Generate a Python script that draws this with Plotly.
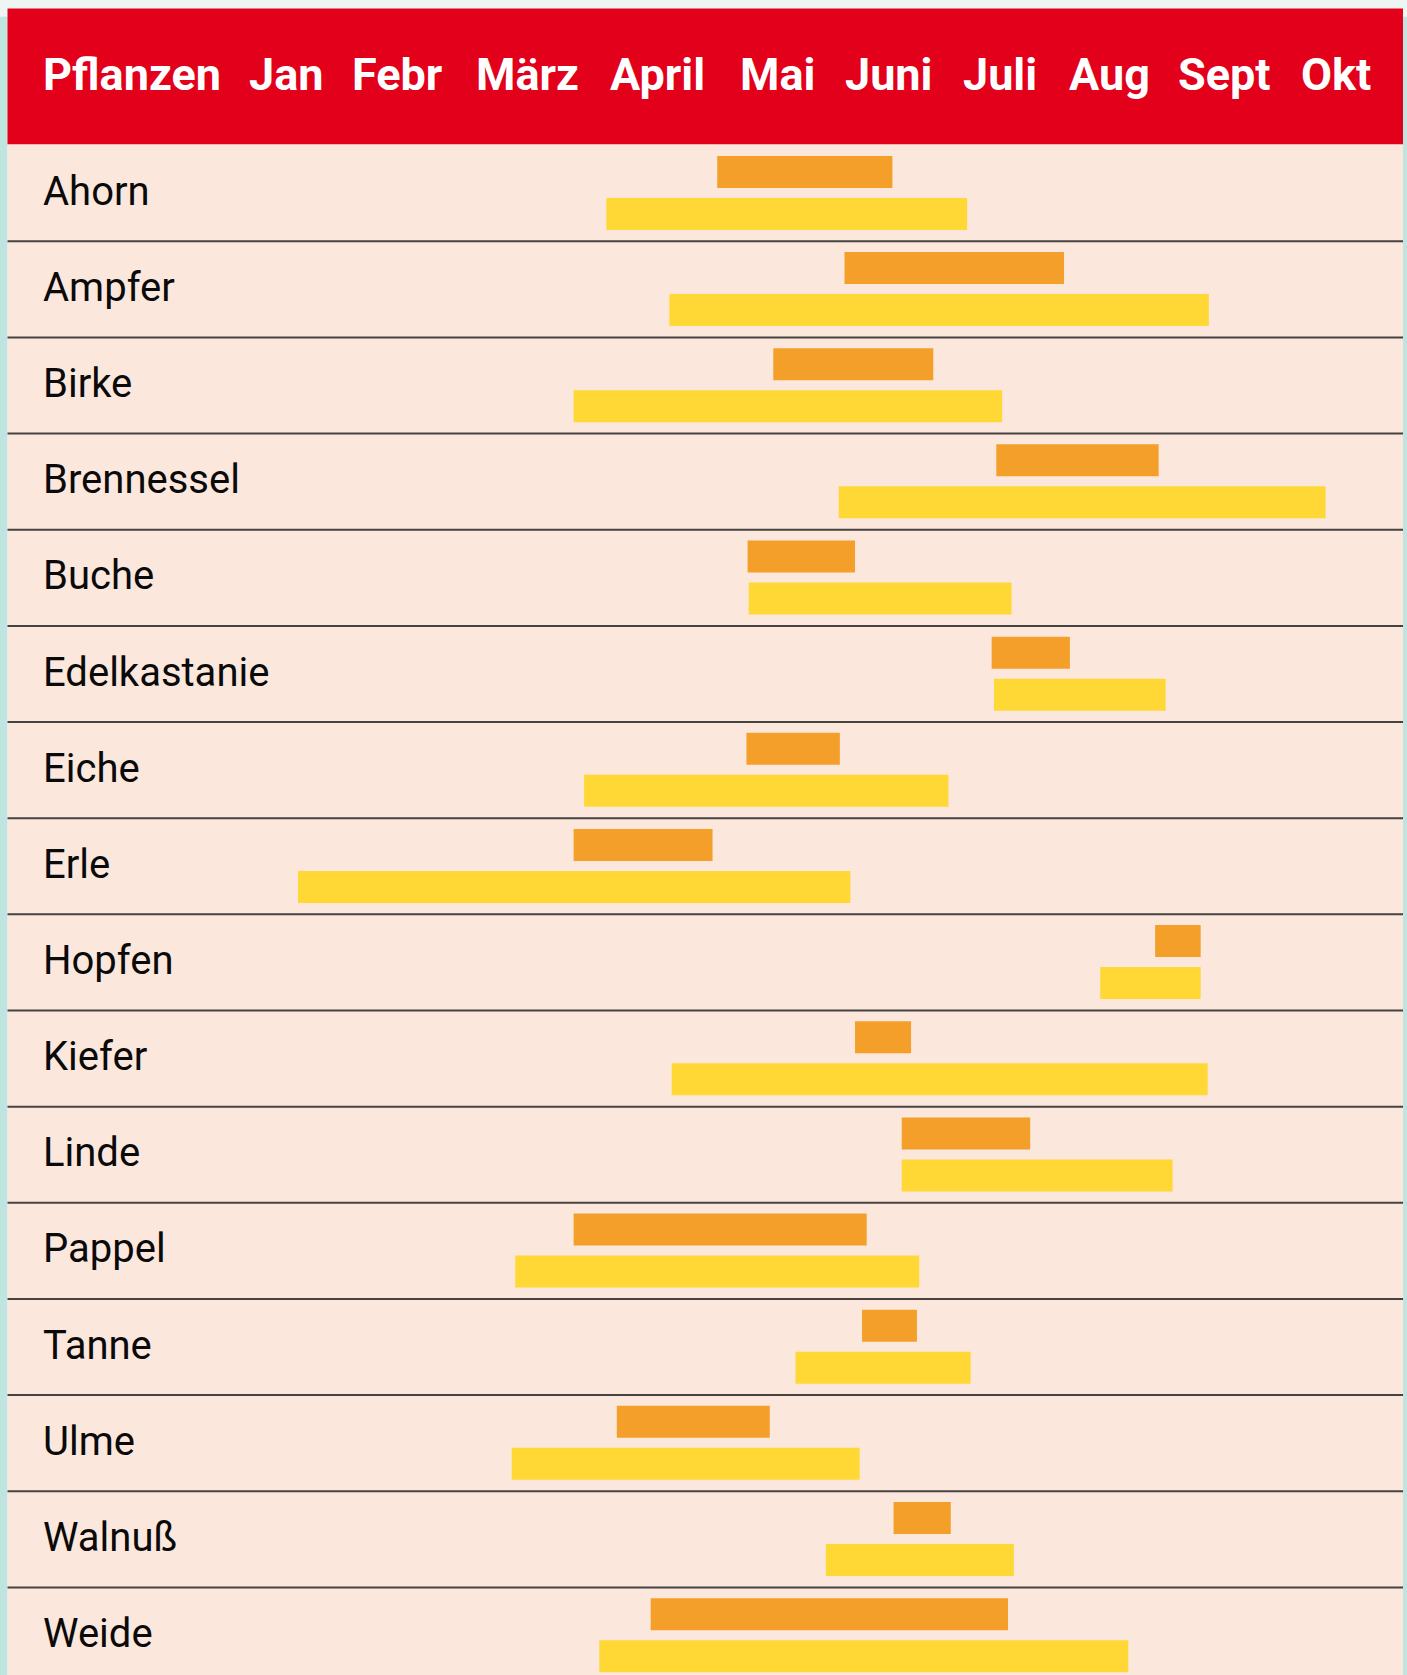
import plotly.graph_objects as go

# ---------------- data ----------------
plants = ["Ahorn", "Ampfer", "Birke", "Brennessel", "Buche", "Edelkastanie", "Eiche", "Erle",
          "Hopfen", "Kiefer", "Linde", "Pappel", "Tanne", "Ulme", "Walnuß", "Weide"]
months = ["Jan", "Febr", "März", "April", "Mai", "Juni", "Juli", "Aug", "Sept", "Okt"]
header_first = "Pflanzen"

# values in months counted from 1 January (0 = start Jan, 10 = end Okt)
main_start = [4.20, 5.29, 4.68, 6.59, 4.46, 6.55, 4.45, 2.97, 7.95, 5.38, 5.78, 2.97, 5.44, 3.34, 5.71, 3.63]
main_end   = [5.70, 7.17, 6.05, 7.98, 5.38, 7.22, 5.25, 4.16, 8.34, 5.86, 6.88, 5.48, 5.91, 4.65, 6.20, 6.69]
total_start = [3.25, 3.79, 2.97, 5.24, 4.47, 6.57, 3.06, 0.61, 7.48, 3.81, 5.78, 2.47, 4.87, 2.44, 5.13, 3.19]
total_end   = [6.34, 8.41, 6.64, 9.41, 6.72, 8.04, 6.18, 5.34, 8.34, 8.40, 8.10, 5.93, 6.37, 5.42, 6.74, 7.72]

# ---------------- layout constants ----------------
W, H = 1407, 1675
RED = "#e2001a"
PEACH = "#fce7dd"
ORANGE = "#f49f29"
YELLOW = "#ffd835"
TEAL = "#bfe5e1"
FONT = "Roboto, 'DejaVu Sans', sans-serif"

n = len(plants)
rows = list(range(n))

fig = go.Figure()

fig.add_trace(go.Bar(
    name="Blütezeit",
    orientation="h",
    y=[i + 0.725 for i in rows],
    x=[e - s for s, e in zip(total_start, total_end)],
    base=total_start,
    width=0.333,
    marker=dict(color=YELLOW, line=dict(width=0)),
    hoverinfo="skip",
))
fig.add_trace(go.Bar(
    name="Hauptblütezeit",
    orientation="h",
    y=[i + 0.288 for i in rows],
    x=[e - s for s, e in zip(main_start, main_end)],
    base=main_start,
    width=0.333,
    marker=dict(color=ORANGE, line=dict(width=0)),
    hoverinfo="skip",
))

shapes = []
tx0, tx1 = 7.5 / W, 1403 / W
# light backdrop strips
shapes.append(dict(type="rect", xref="paper", yref="paper", x0=0, x1=tx0, y0=0, y1=0.99,
                   fillcolor=TEAL, line=dict(width=0), layer="below"))
shapes.append(dict(type="rect", xref="paper", yref="paper", x0=tx1, x1=1, y0=0, y1=0.99,
                   fillcolor=TEAL, line=dict(width=0), layer="below"))
# table body
shapes.append(dict(type="rect", xref="paper", yref="y", x0=tx0, x1=tx1, y0=0, y1=16.5,
                   fillcolor=PEACH, line=dict(width=0), layer="below"))
# header
shapes.append(dict(type="rect", xref="paper", yref="y", x0=tx0, x1=tx1, y0=-1.4116, y1=0,
                   fillcolor=RED, line=dict(width=0), layer="below"))
# row separators
for i in range(1, n):
    shapes.append(dict(type="line", xref="paper", yref="y", x0=tx0, x1=tx1, y0=i + 0.01, y1=i + 0.01,
                       line=dict(color="#454240", width=2), layer="above"))

annotations = []
annotations.append(dict(text=f"<b>{header_first}</b>", xref="paper", yref="y", x=41 / W, y=-0.73,
                        xanchor="left", yanchor="middle", showarrow=False,
                        font=dict(family=FONT, size=45, color="white")))
header_px = [285.8, 397.4, 527.7, 657.0, 777.2, 888.8, 999.9, 1109.5, 1224.8, 1336.3]
for m, px in zip(months, header_px):
    annotations.append(dict(text=f"<b>{m}</b>", xref="paper", yref="y", x=px / W, y=-0.73,
                            xanchor="center", yanchor="middle", showarrow=False,
                            font=dict(family=FONT, size=45, color="white")))
for i, p in enumerate(plants):
    annotations.append(dict(text=p, xref="paper", yref="y", x=41 / W, y=i + 0.49,
                            xanchor="left", yanchor="middle", showarrow=False,
                            font=dict(family=FONT, size=40, color="#0a0a0a")))

fig.update_layout(
    width=W, height=H,
    margin=dict(l=0, r=0, t=0, b=0),
    paper_bgcolor="#eef6f4",
    plot_bgcolor="rgba(0,0,0,0)",
    showlegend=False,
    barmode="overlay",
    shapes=shapes,
    annotations=annotations,
    xaxis=dict(range=[-1.9423, 10.107], visible=False, fixedrange=True),
    yaxis=dict(range=[15.921, -1.4998], visible=False, fixedrange=True),
)

fig.write_html("out.html", config={"displayModeBar": False},
               post_script="document.body.style.margin='0';")
